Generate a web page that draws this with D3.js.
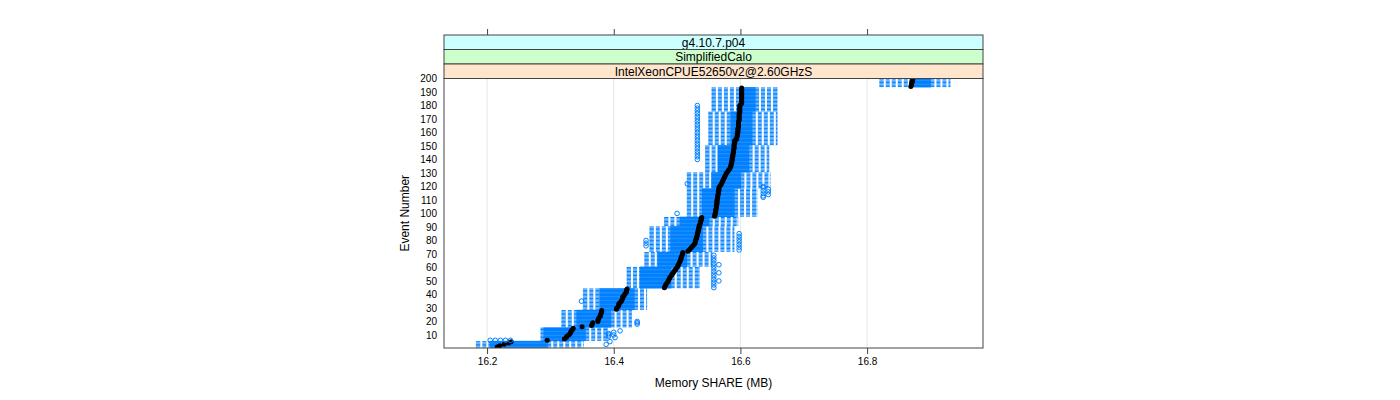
<!DOCTYPE html>
<html>
<head>
<meta charset="utf-8">
<script src="https://d3js.org/d3.v7.min.js"></script>
<style>
body { margin: 0; background: #fff; }
text { font-family: "Liberation Sans", Arial, Helvetica, sans-serif; }
</style>
</head>
<body>
<div id="memory-share-chart"></div>
<script>
// strips, top to bottom
var stripLabels = ['g4.10.7.p04', 'SimplifiedCalo', 'IntelXeonCPUE52650v2@2.60GHzS'];
var stripColors = ['#ccffff', '#ccffcc', '#ffe5cc'];

var xTicks = [16.2, 16.4, 16.6, 16.8];
var yTicks = [10, 20, 30, 40, 50, 60, 70, 80, 90, 100, 110, 120, 130, 140, 150, 160, 170, 180, 190, 200];

// median memory share (MB) for events 1..200
var medians = [
    16.216, 16.220, 16.227, 16.234, 16.238,
    16.295,
    16.322, 16.325, 16.326, 16.329, 16.331, 16.332, 16.333, 16.335, 16.336,
    16.350,
    16.365, 16.366, 16.367,
    16.375, 16.375, 16.376, 16.377, 16.379, 16.379, 16.380, 16.381, 16.381,
    16.404, 16.405, 16.407, 16.408, 16.408, 16.410, 16.412, 16.413, 16.414, 16.414, 16.416, 16.417, 16.419, 16.420, 16.420, 16.421,
    16.480, 16.481, 16.482, 16.483, 16.485, 16.486, 16.487, 16.488, 16.489, 16.491, 16.492, 16.494, 16.495, 16.497,
    16.498, 16.500, 16.501, 16.502, 16.503, 16.504, 16.505, 16.506, 16.506, 16.507, 16.508, 16.509, 16.509,
    16.517, 16.519, 16.521, 16.523, 16.525, 16.527, 16.528, 16.529, 16.529, 16.530, 16.531, 16.531, 16.532,
    16.532, 16.533, 16.533, 16.534, 16.534, 16.535, 16.535, 16.536, 16.537, 16.537, 16.538, 16.538, 16.539,
    16.559, 16.560, 16.560, 16.561, 16.561, 16.561, 16.562, 16.562, 16.562, 16.563, 16.563,
    16.563, 16.563, 16.564, 16.564, 16.564, 16.565, 16.565, 16.565, 16.566, 16.566, 16.566,
    16.567, 16.569, 16.570, 16.571, 16.572, 16.573, 16.574, 16.575, 16.576, 16.577, 16.578,
    16.580, 16.581, 16.583, 16.584,
    16.585, 16.585, 16.586, 16.586, 16.587, 16.587, 16.587, 16.588, 16.588, 16.588,
    16.589, 16.589, 16.589, 16.590, 16.590, 16.590, 16.590, 16.591, 16.591, 16.591,
    16.594, 16.594, 16.595, 16.595, 16.595, 16.596, 16.596, 16.596, 16.596, 16.597, 16.597, 16.597, 16.597,
    16.597, 16.598, 16.598, 16.598, 16.598, 16.598, 16.598, 16.599, 16.599, 16.599, 16.599, 16.599, 16.599,
    16.601, 16.602, 16.602, 16.602, 16.602, 16.602, 16.602, 16.602, 16.602, 16.602, 16.602, 16.602, 16.602,
    16.869, 16.870, 16.870, 16.871, 16.871, 16.872, 16.872
];

// box stats, shared by runs of events (values are page quantised)
var blockFirst = [1, 6, 16, 29, 45, 61, 72, 91, 98, 119, 131, 151, 176, 194];
var blockLast = [5, 15, 28, 44, 60, 71, 90, 97, 118, 130, 150, 175, 193, 200];
var blockLo = [16.183, 16.285, 16.318, 16.352, 16.421, 16.449, 16.457, 16.480, 16.516, 16.516, 16.545, 16.550, 16.555, 16.820];
var blockQ1 = [16.205, 16.290, 16.342, 16.378, 16.442, 16.470, 16.490, 16.505, 16.540, 16.555, 16.565, 16.585, 16.600, 16.868];
var blockQ3 = [16.295, 16.355, 16.395, 16.432, 16.490, 16.515, 16.540, 16.550, 16.590, 16.600, 16.613, 16.618, 16.623, 16.900];
var blockHi = [16.352, 16.390, 16.428, 16.452, 16.535, 16.555, 16.590, 16.596, 16.626, 16.647, 16.645, 16.658, 16.658, 16.931];

var outlierEvents = [
    3, 5, 6, 6, 6, 6, 6, 8, 9, 10, 10, 11, 12, 13,
    18, 19, 20, 35,
    45, 47, 49, 50, 51, 53, 55, 56, 57, 59, 61, 62, 63, 65, 67, 69,
    73, 75, 76, 77, 78, 79, 80, 81, 83, 85,
    100, 112, 113, 114, 115, 116, 117, 118, 119, 120, 122,
    140, 142, 144, 146, 148, 150, 152, 154, 156, 158, 160, 162, 164, 166, 168, 170, 172, 174, 176, 178, 180
];
var outlierValues = [
    16.388, 16.394, 16.205, 16.213, 16.221, 16.229, 16.237, 16.402, 16.392, 16.392, 16.400, 16.392, 16.400, 16.410,
    16.437, 16.437, 16.437, 16.349,
    16.558, 16.558, 16.558, 16.566, 16.558, 16.558, 16.558, 16.566, 16.558, 16.558, 16.558, 16.566, 16.558, 16.558, 16.558, 16.558,
    16.598, 16.598, 16.451, 16.598, 16.451, 16.598, 16.451, 16.598, 16.598, 16.598,
    16.500, 16.636, 16.636, 16.644, 16.636, 16.644, 16.636, 16.644, 16.636, 16.636, 16.516,
    16.532, 16.532, 16.532, 16.532, 16.532, 16.532, 16.532, 16.532, 16.532, 16.532, 16.532,
    16.532, 16.532, 16.532, 16.532, 16.532, 16.532, 16.532, 16.532, 16.532, 16.532
];


function MemoryShareChart()
{
    var self = this;
    self.init();
}


MemoryShareChart.prototype.init = function()
{
    var self = this;
    self.panel = {left: 444, right: 983, top: 78.5, bottom: 348};
    self.stripTop = 35;
    self.stripHeight = 14.5;

    self.svg = d3.select('#memory-share-chart').append('svg')
        .attr('width', 1400)
        .attr('height', 400);

    self.x = d3.scaleLinear()
        .domain([16.132, 16.983])
        .range([self.panel.left, self.panel.right]);

    self.y = d3.scaleLinear()
        .domain([0.3, 200])
        .range([self.panel.bottom, self.panel.top]);

    self.svg.append('clipPath').attr('id', 'panel-clip')
        .append('rect')
        .attr('x', self.panel.left)
        .attr('y', self.panel.top)
        .attr('width', self.panel.right - self.panel.left)
        .attr('height', self.panel.bottom - self.panel.top);
};


MemoryShareChart.prototype.update = function()
{
    var self = this;
    var x = self.x, y = self.y, p = self.panel;
    var blue = '#0080ff';

    // one row per event, box stats looked up from its block
    var rows = medians.map(function(m, i) {
        var ev = i + 1,
            b = d3.bisectRight(blockFirst, ev) - 1;
        return {ev: ev, med: m, lo: blockLo[b], q1: blockQ1[b], q3: blockQ3[b], hi: blockHi[b]};
    });

    var content = self.svg.append('g').attr('clip-path', 'url(#panel-clip)');

    // grid
    content.selectAll('.grid').data(xTicks).enter().append('line')
        .attr('class', 'grid')
        .attr('x1', function(d) { return x(d); })
        .attr('x2', function(d) { return x(d); })
        .attr('y1', p.top)
        .attr('y2', p.bottom)
        .style('stroke', '#e6e6e6');

    var half = function(d) { return (y(d.ev - 0.25) - y(d.ev + 0.25)) / 2; };

    // boxes
    content.selectAll('.box').data(rows).enter().append('rect')
        .attr('class', 'box')
        .attr('x', function(d) { return x(d.q1); })
        .attr('width', function(d) { return x(d.q3) - x(d.q1); })
        .attr('y', function(d) { return y(d.ev) - half(d); })
        .attr('height', function(d) { return 2 * half(d); })
        .style('fill', 'none')
        .style('stroke', blue)
        .style('stroke-width', 1);

    // whiskers (dashed) from lo to q1 and q3 to hi
    var whiskers = [];
    rows.forEach(function(d) {
        whiskers.push({ev: d.ev, a: d.lo, b: d.q1});
        whiskers.push({ev: d.ev, a: d.q3, b: d.hi});
    });
    content.selectAll('.whisker').data(whiskers).enter().append('line')
        .attr('class', 'whisker')
        .attr('x1', function(d) { return x(d.a); })
        .attr('x2', function(d) { return x(d.b); })
        .attr('y1', function(d) { return y(d.ev); })
        .attr('y2', function(d) { return y(d.ev); })
        .style('stroke', blue)
        .style('stroke-dasharray', '4,2');

    // umbrella ends
    var caps = [];
    rows.forEach(function(d) {
        caps.push({ev: d.ev, v: d.lo});
        caps.push({ev: d.ev, v: d.hi});
    });
    content.selectAll('.cap').data(caps).enter().append('line')
        .attr('class', 'cap')
        .attr('x1', function(d) { return x(d.v); })
        .attr('x2', function(d) { return x(d.v); })
        .attr('y1', function(d) { return y(d.ev - 0.25); })
        .attr('y2', function(d) { return y(d.ev + 0.25); })
        .style('stroke', blue);

    // median dots
    content.selectAll('.median').data(rows).enter().append('circle')
        .attr('class', 'median')
        .attr('cx', function(d) { return x(d.med); })
        .attr('cy', function(d) { return y(d.ev); })
        .attr('r', 2.5)
        .style('fill', '#000');

    // outliers
    content.selectAll('.outlier').data(outlierEvents).enter().append('circle')
        .attr('class', 'outlier')
        .attr('cx', function(d, i) { return x(outlierValues[i]); })
        .attr('cy', function(d) { return y(d); })
        .attr('r', 2.3)
        .style('fill', 'none')
        .style('stroke', blue);

    // panel border
    self.svg.append('rect')
        .attr('x', p.left)
        .attr('y', p.top)
        .attr('width', p.right - p.left)
        .attr('height', p.bottom - p.top)
        .style('fill', 'none')
        .style('stroke', '#444');

    // strips
    var strips = self.svg.selectAll('.strip').data(stripLabels).enter().append('g')
        .attr('class', 'strip')
        .attr('transform', function(d, i) { return 'translate(' + p.left + ',' + (self.stripTop + i * self.stripHeight) + ')'; });
    strips.append('rect')
        .attr('width', p.right - p.left)
        .attr('height', self.stripHeight)
        .style('fill', function(d, i) { return stripColors[i]; })
        .style('stroke', '#444');
    strips.append('text')
        .attr('x', (p.right - p.left) / 2)
        .attr('y', self.stripHeight / 2)
        .attr('dy', '0.36em')
        .style('text-anchor', 'middle')
        .style('font-size', '12px')
        .text(function(d) { return d; });

    // axes
    var xAxis = d3.axisBottom(x).tickValues(xTicks).tickSize(6).tickPadding(4).tickFormat(d3.format('.1f'));
    var xAxisTop = d3.axisTop(x).tickValues(xTicks).tickSize(6).tickFormat('');
    var yAxis = d3.axisLeft(y).tickValues(yTicks).tickSize(0).tickPadding(7);

    var gx = self.svg.append('g')
        .attr('transform', 'translate(0,' + p.bottom + ')')
        .call(xAxis);
    var gxt = self.svg.append('g')
        .attr('transform', 'translate(0,' + self.stripTop + ')')
        .call(xAxisTop);
    var gy = self.svg.append('g')
        .attr('transform', 'translate(' + p.left + ',0)')
        .call(yAxis);

    [gx, gxt, gy].forEach(function(g) {
        g.select('.domain').remove();
        g.selectAll('line').style('stroke', '#444');
        g.selectAll('text')
            .style('font-family', '"Liberation Sans", Arial, sans-serif')
            .style('font-size', '10px')
            .style('fill', '#000');
    });

    self.svg.append('text')
        .attr('x', (p.left + p.right) / 2)
        .attr('y', 387)
        .style('text-anchor', 'middle')
        .style('font-size', '12px')
        .text('Memory SHARE (MB)');

    self.svg.append('text')
        .attr('transform', 'translate(409,' + ((p.top + p.bottom) / 2) + ') rotate(-90)')
        .style('text-anchor', 'middle')
        .style('font-size', '12px')
        .text('Event Number');
};


var chart = new MemoryShareChart();
chart.update();
</script>
</body>
</html>
